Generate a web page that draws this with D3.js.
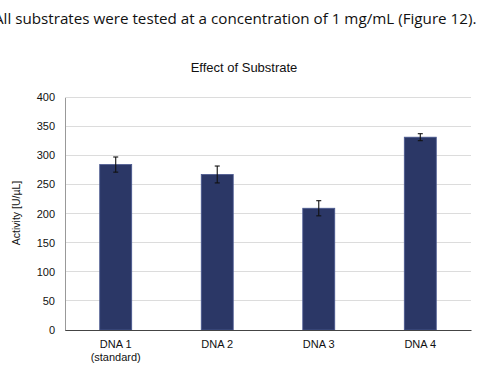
<!DOCTYPE html>
<html><head><meta charset="utf-8">
<script src="https://cdn.jsdelivr.net/npm/d3@7/dist/d3.min.js"></script>
<style>body{margin:0;background:#fff}svg{display:block}</style>
</head><body>
<svg id="c" width="492" height="371"></svg>
<script>
const categories = ["DNA 1|(standard)", "DNA 2", "DNA 3", "DNA 4"];
const values = [284, 267, 209, 331];
const errors = [13, 14.5, 13, 6];
const yTicks = [0, 50, 100, 150, 200, 250, 300, 350, 400];

const svg = d3.select("#c");
const m = {l: 65, r: 21, t: 97, b: 41};
const W = 492, H = 371;
const x = d3.scaleBand().domain(categories).range([m.l, W - m.r]).paddingInner(0.685).paddingOuter(0.342);
const y = d3.scaleLinear().domain([0, 400]).range([H - m.b, m.t]);

svg.append("text").attr("x", -6).attr("y", 24)
  .attr("font-family", "Open Sans, Noto Sans, sans-serif").attr("font-size", 15.2).attr("fill", "#111")
  .text("All substrates were tested at a concentration of 1 mg/mL (Figure 12).");

svg.append("text").attr("x", 244).attr("y", 72).attr("text-anchor", "middle")
  .attr("font-family", "Liberation Sans, Arial, sans-serif").attr("font-size", 13).attr("fill", "#111")
  .text("Effect of Substrate");

// grid
svg.append("g").selectAll("line").data(yTicks.filter(d => d > 0)).join("line")
  .attr("x1", m.l).attr("x2", W - m.r).attr("y1", d => y(d)).attr("y2", d => y(d))
  .attr("stroke", "#dcdcdc").attr("stroke-width", 1).attr("shape-rendering", "crispEdges");

// y axis
const ya = svg.append("g").attr("transform", `translate(${m.l},0)`)
  .call(d3.axisLeft(y).tickValues(yTicks).tickSize(0).tickPadding(10));
ya.select(".domain").attr("stroke", "#999").attr("shape-rendering", "crispEdges");
ya.selectAll("text").attr("font-family", "Liberation Sans, Arial, sans-serif").attr("font-size", 11).attr("fill", "#111");

// bars
svg.append("g").selectAll("rect").data(values).join("rect")
  .attr("x", (d, i) => x(categories[i])).attr("width", x.bandwidth())
  .attr("y", d => y(d)).attr("height", d => y(0) - y(d))
  .attr("fill", "#2b3766").attr("stroke", "#4a5890").attr("stroke-width", 0.8);

// error bars
const eg = svg.append("g").attr("stroke", "#111").attr("stroke-width", 1.1);
values.forEach((v, i) => {
  const cx = x(categories[i]) + x.bandwidth() / 2;
  eg.append("line").attr("x1", cx).attr("x2", cx).attr("y1", y(v + errors[i])).attr("y2", y(v - errors[i]));
  eg.append("line").attr("x1", cx - 2.5).attr("x2", cx + 2.5).attr("y1", y(v + errors[i])).attr("y2", y(v + errors[i]));
  eg.append("line").attr("x1", cx - 2.5).attr("x2", cx + 2.5).attr("y1", y(v - errors[i])).attr("y2", y(v - errors[i]));
});

// x axis
const xa = svg.append("g").attr("transform", `translate(0,${y(0)})`)
  .call(d3.axisBottom(x).tickSize(0).tickFormat(""));
xa.select(".domain").attr("stroke", "#444").attr("stroke-width", 1.2);
xa.selectAll(".tick").each(function(d) {
  const parts = d.split("|");
  const t = d3.select(this).append("text").attr("text-anchor", "middle")
    .attr("font-family", "Liberation Sans, Arial, sans-serif").attr("font-size", 11).attr("fill", "#111");
  parts.forEach((p, k) => t.append("tspan").attr("x", 0).attr("y", 18 + k * 13).text(p));
});

svg.append("text").attr("transform", "translate(20,213) rotate(-90)").attr("text-anchor", "middle")
  .attr("font-family", "Liberation Sans, Arial, sans-serif").attr("font-size", 10.5).attr("fill", "#111")
  .text("Activity [U/µL]");
</script>
</body></html>
